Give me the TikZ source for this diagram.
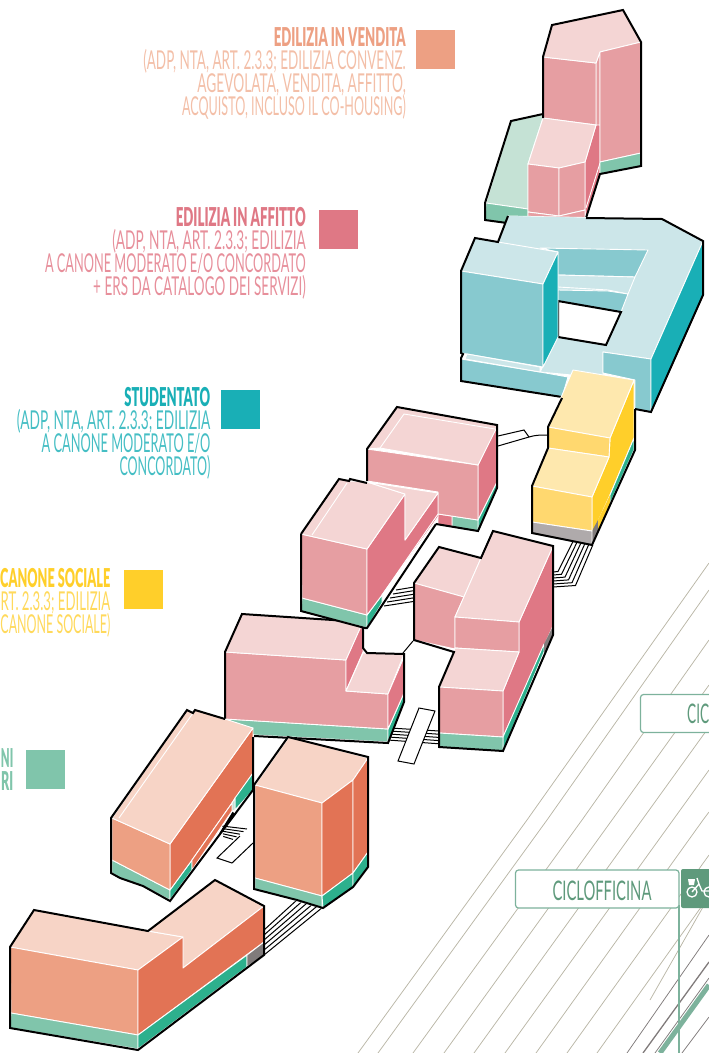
\documentclass[tikz,border=0pt]{standalone}
\usepackage{graphicx}
\usepackage{fontspec}
\setmainfont{Lato}
\newfontfamily\thinf{Lato}
\newfontfamily\boldf{Lato Black}
\definecolor{rf}{HTML}{F4D5D4}\definecolor{wl}{HTML}{E69EA2}\definecolor{sd}{HTML}{DF7885}
\definecolor{gl}{HTML}{80C5AB}\definecolor{gd}{HTML}{2DB08D}\definecolor{gp}{HTML}{C5E2D5}
\definecolor{ta}{HTML}{19AFB6}\definecolor{tm}{HTML}{87C9CF}\definecolor{tl}{HTML}{CCE6E9}
\definecolor{yl}{HTML}{FEE8AE}\definecolor{ym}{HTML}{FFD86F}\definecolor{yd}{HTML}{FFCF2A}
\definecolor{gy}{HTML}{AFAAAB}\definecolor{gk}{HTML}{807B7B}
\definecolor{or}{HTML}{F7D4C6}\definecolor{ow}{HTML}{EDA083}\definecolor{os}{HTML}{E27355}
\definecolor{rail}{HTML}{B9B6A6}\definecolor{lab}{HTML}{7DB29C}\definecolor{bik}{HTML}{5F9A7C}
\definecolor{tvend}{HTML}{F3BFA8}\definecolor{taff}{HTML}{E78F9B}\definecolor{tstu}{HTML}{45BEC4}\definecolor{tcan}{HTML}{FFD95C}
\newcommand{\fc}[2]{\filldraw[face,fill=#1] #2 -- cycle;}
\newcommand{\ol}[1]{\draw[outl] #1;}
\newcommand{\lbl}[7]{\node[txt,text=#5] (#1) at (#2,#3) {\resizebox{#4pt}{\height}{#6 #7}};}
\tikzset{
  face/.style={draw=white,line width=0.9pt,line join=round},
  outl/.style={draw=black,line width=2pt,line join=miter},
  txt/.style={anchor=base east,inner sep=0pt,font=\fontsize{26}{26}\selectfont},
  railw/.style={draw=rail,line width=0.75pt},
  darkr/.style={draw=gk,line width=0.75pt},
  stair/.style={draw=black,line width=1pt},
  tag/.style={draw=lab,line width=1.2pt,fill=white,rounded corners=3pt}
}
\begin{document}
\begin{tikzpicture}[x=1pt,y=-1pt]
\useasboundingbox (0,0) rectangle (709,1053);
% ---- rail lines
\draw[railw] (358,1053)--(527,820)--(709,563);
\draw[railw] (378,1053)--(547,820)--(709,590);
\draw[railw] (413,1053)--(582,820)--(709,640);
\draw[railw] (444,1053)--(612,820)--(709,685);
\draw[railw] (474,1053)--(642,820)--(709,727);
\draw[railw] (505,1053)--(673,820)--(709,770);
\draw[railw] (536,1053)--(703,820)--(709,812);
\draw[railw] (567,1053)--(709,855);
\draw[railw] (597,1053)--(709,896);
\draw[railw] (650,1000)--(703,907);
\draw[darkr] (627,1053)--(709,935);
\draw[darkr,line width=1.3pt] (643,1053)--(709,962);
\draw[darkr] (655,1053)--(709,978);
\draw[darkr] (682,1053)--(709,1017);
\draw[draw=lab,line width=5pt] (660,1053)--(709,985);
% ---- tags
\draw[lab,line width=1.2pt] (679,905)--(679,1053);
\fill[white] (640.5,694.5) rectangle (709,732.5);
\draw[lab,line width=1.2pt,rounded corners=3pt] (715,694.5) -- (640.5,694.5) -- (640.5,732.5) -- (715,732.5);
\draw[tag] (515.5,870) rectangle (679,908);
\node[inner sep=0pt,anchor=base west,text=bik,font=\thinf\fontsize{27}{27}\selectfont] (cic) at (687,723) {\resizebox{22pt}{\height}{CIC}};
\node[inner sep=0pt,anchor=base,text=bik,font=\thinf\fontsize{27}{27}\selectfont] (cicl) at (602,900) {\resizebox{99pt}{\height}{CICLOFFICINA}};
\fill[bik,rounded corners=2pt] (681,908) -- (681,869) -- (712,869) -- (712,908) -- cycle;
\draw[white,line width=1.3pt] (692,892) circle[radius=5];
\draw[white,line width=1.3pt] (709,892) circle[radius=5];
\draw[white,line width=1.3pt] (692,892) -- (699,884) -- (697,878) (699,884) -- (702,891) -- (709,891);
\fill[white] (688,879) -- (695,879) -- (694,885) -- (689,885) -- cycle;
% ---- legend
\fill[ow]  (416,30) rectangle (455,69);
\fill[sd]  (319,210) rectangle (358,249);
\fill[ta]  (221,390) rectangle (260,429);
\fill[yd]  (124,570) rectangle (163,609);
\fill[gl]  (26,750) rectangle (65,789);
\lbl{v1}{406}{46}{135}{ow}{\boldf}{EDILIZIA IN VENDITA}
\lbl{v2}{406}{69}{266}{tvend}{\thinf}{(ADP, NTA, ART. 2.3.3; EDILIZIA CONVENZ.}
\lbl{v3}{406}{92}{212}{tvend}{\thinf}{AGEVOLATA,  VENDITA, AFFITTO,}
\lbl{v4}{406}{115}{227}{tvend}{\thinf}{ACQUISTO, INCLUSO IL CO-HOUSING)}
\lbl{a1}{306}{226}{133}{sd}{\boldf}{EDILIZIA IN AFFITTO}
\lbl{a2}{306}{249}{197}{taff}{\thinf}{(ADP, NTA, ART. 2.3.3; EDILIZIA}
\lbl{a3}{306}{272}{264}{taff}{\thinf}{A CANONE MODERATO E/O CONCORDATO}
\lbl{a4}{306}{295}{216}{taff}{\thinf}{+ ERS DA CATALOGO DEI SERVIZI)}
\lbl{s1}{210.5}{406}{89}{ta}{\boldf}{STUDENTATO}
\lbl{s2}{210.5}{429}{197}{tstu}{\thinf}{(ADP, NTA, ART. 2.3.3; EDILIZIA}
\lbl{s3}{210.5}{452}{172}{tstu}{\thinf}{A CANONE MODERATO E/O}
\lbl{s4}{210.5}{475}{94}{tstu}{\thinf}{CONCORDATO)}
\lbl{c1}{110.5}{587}{113}{yd}{\boldf}{CANONE SOCIALE}
\lbl{c2}{110.5}{610}{113}{tcan}{\thinf}{RT. 2.3.3; EDILIZIA}
\lbl{c3}{110.5}{633}{113}{tcan}{\thinf}{CANONE SOCIALE)}
\lbl{n1}{13.5}{767}{15}{gl}{\boldf}{NI}
\lbl{n2}{13.5}{790}{15}{gl}{\boldf}{RI}
% ---- stairs and small connections
\draw[stair] (498,436)--(524,430)--(529,437) .. controls (535,435) and (541,435) .. (548,435);
\draw[stair] (498,446)--(529,437);
\foreach \i in {0,...,5}{
  \draw[stair] ({573.3+3.9*\i},{541+0.8*\i}) -- ({558+3.5*\i},{571.5+2.8*\i}) -- (553,{572+3*\i});
  \draw[stair] (264,{930+5*\i}) -- ({298+5*\i},{899+1.6*\i});
}
\foreach \i in {0,...,4}{
  \draw[stair] ({396-3*\i},{590+4*\i}) -- (414,{587+3.6*\i});
  \draw[stair] ({390-0.5*\i},{728+3*\i}) -- (439,{731+3.2*\i});
  \draw[stair] ({222+\i*0.3},{826+2.6*\i}) -- ({247-\i*3.5},{829+2.6*\i});
}
\draw[stair] (220,833)--(233,812) (223,829)--(234,813) (226,826)--(235,814);
\draw[stair] (403,653)--(413,641);
\draw[stair,fill=white] (419,708)--(435,711)--(414,764)--(398,761)--cycle;
\draw[stair] (240,836)--(217,858)--(232,863)--(253,843);
% ---- top pink block
\fc{gp}{(543,114)--(511,121)--(486,203)--(528,209)--(528,164)--(543,118)}
\fc{gl}{(486,203)--(528,209)--(528,222)--(507,223)--(485,220)}
\fc{wl}{(596,63)--(600,52)--(600,130)--(596,125)}
\fc{sd}{(585,162)--(596,125)--(600,125)--(600,174)--(586,219)--(585,210)}
\draw[white,line width=0.9pt] (600,163)--(586,208);
\fc{wl}{(543,57)--(596,63)--(596,125)--(543,118)}
\fc{rf}{(543,57)--(552,25)--(623,10)--(641,42)--(600,52)--(596,63)}
\fc{wl}{(600,52)--(641,42)--(641,153)--(600,162)}
\fc{gl}{(600,162)--(641,153)--(641,166)--(600,174)}
\fc{rf}{(543,118)--(596,125)--(585,162)--(559,168)--(528,164)}
\fc{wl}{(528,164)--(559,168)--(559,216)--(528,212)}
\fc{wl}{(559,168)--(585,162)--(585,210)--(559,216)}
\fc{wl}{(528,212)--(559,216)--(585,210)--(585,219)--(528,219)}
\ol{(543,118)--(543,57)--(552,25)--(623,10)--(641,42)--(641,166)--(600,174)--(586,218)}
\ol{(543,114)--(511,121)--(485,203)--(485,220)--(507,223)}
% ---- teal block
\filldraw[face,fill=tl] (508,216)--(662,219)--(703,241)--(651,359)--(603,352)--(603,378)--(540,372)--(550,352)--(558,252)--cycle;
\fill[tl] (498,242)--(508,216)--(600,218)--(600,300)--(558,252)--cycle;
\fc{tm}{(540,248)--(648,250)--(635,277)--(558,275)--(558,252)}
\fc{tl}{(558,275)--(635,277)--(628,294)--(608,290)--(558,287)}
\fc{tm}{(558,290)--(608,291)--(628,294)--(621,312)--(558,301)}
\filldraw[draw=black,line width=2pt,fill=white] (558,301)--(621,312)--(606,345)--(558,337)--cycle;
\fc{tl}{(461,271)--(475,238)--(498,242)--(558,252)--(543,284)}
\fc{tm}{(461,271)--(543,284)--(543,367)--(461,353)}
\fc{ta}{(543,284)--(558,252)--(558,337)--(543,367)}
\fc{tm}{(461,359)--(540,372)--(568,377)--(562,397)--(461,381)}
\fc{tl}{(467,354)--(540,367)--(540,372)--(465,359)}
\fc{tm}{(603,352)--(651,359)--(651,412)--(635,409)--(635,380)--(603,373)}
\fc{ta}{(651,359)--(703,241)--(703,295)--(651,412)}
\ol{(586,218)--(662,219)--(703,241)--(703,295)--(651,412)--(635,409)}
\ol{(508,216)--(498,242)--(475,238)--(461,271)--(461,353)--(463,354)--(461,358)--(461,381)--(562,397)}
% ---- yellow block
\fc{yd}{(610,438)--(634,380)--(634,438)--(610,495)--(600,517)--(592,535)--(592,497)--(609,457)}
\fc{gd}{(634,438)--(610,495)--(610,504)--(634,450)}
\fill[gk] (592,531)--(598,520)--(598,532)--(592,545)--cycle;
\fill[yd] (598,520)--(610,495)--(610,504)--(598,530)--cycle;
\fc{yl}{(573,370)--(634,380)--(610,438)--(548,427)}
\fc{ym}{(548,427)--(610,438)--(609,457)--(548,448)}
\fc{yl}{(548,448)--(609,457)--(592,497)--(532,486)}
\fc{ym}{(532,486)--(592,497)--(592,531)--(532,522)}
\fc{gy}{(532,522)--(592,531)--(592,545)--(532,533)}
\ol{(562,398)--(548,427)--(548,448)--(532,486)--(532,533)--(592,545)--(635,450)--(635,409)}
% ---- pink B1
\fc{sd}{(478,465)--(497,425)--(497,482)--(478,520)}
\fc{gd}{(478,520)--(497,482)--(497,488)--(478,531)}
\fc{gl}{(452,516)--(478,520)--(478,531)--(452,527)}
\fc{sd}{(438,514)--(452,516)--(452,527)--(438,524)}
\fc{wl}{(367,449)--(478,465)--(478,520)--(438,514)--(438,492)--(367,481)}
\fc{rf}{(367,449)--(397,407)--(497,424)--(497,427)--(478,465)--(380,448)}
\draw[white,line width=0.9pt] (380,448)--(404,414)--(495,429);
\ol{(367,481)--(367,449)--(397,407)--(497,425)--(497,488)--(478,531)--(436,524)}
% ---- pink B4
\fc{gl}{(227,719)--(388,729)--(388,742)--(254,735)}
\fc{gd}{(388,729)--(404,693)--(404,702)--(388,743)}
\fc{wl}{(225,652)--(346,660)--(346,691)--(388,694)--(388,729)--(225,719)}
\fc{rf}{(225,652)--(242,614)--(363,622)--(346,660)}
\fc{sd}{(346,660)--(363,622)--(363,652)--(346,691)}
\fc{rf}{(346,691)--(363,653)--(404,654)--(388,694)}
\fc{sd}{(388,694)--(404,657)--(404,693)--(388,729)}
\ol{(225,720)--(225,652)--(242,614)--(363,622)--(363,648)--(367,653)--(404,654)--(404,702)--(388,743)--(254,736)}
% ---- pink B2
\fc{gl}{(302,598)--(367,615)--(367,628)--(301,611)}
\fc{gd}{(367,615)--(382,595)--(382,603)--(367,628)}
\fc{wl}{(301,534)--(367,549)--(367,615)--(302,598)}
\fc{sd}{(367,549)--(405,494)--(405,540)--(438,493)--(438,517)--(382,595)--(367,615)}
\draw[white,line width=0.9pt] (438,514)--(382,595);
\fc{rf}{(301,534)--(339,479)--(350,481)--(367,482)--(405,494)--(367,549)}
\fc{rf}{(367,482)--(438,493)--(405,540)--(405,494)}
\draw[white,line width=0.9pt] (312,535)--(347,483);
\ol{(301,534)--(339,479)--(349,481)--(350,479)--(367,483)}
\ol{(301,534)--(301,611)--(365,628)--(367,628)--(436,524)}
% ---- pink B3
\fc{sd}{(519,622)--(553,546)--(553,626)--(503,737)--(503,691)--(519,652)}
\fc{gd}{(503,737)--(544,644)--(544,652)--(503,751)}
\fill[gk] (544,644)--(553,626)--(553,635)--(544,653)--cycle;
\fc{rf}{(414,583)--(439,547)--(481,558)--(464,597)}
\fc{wl}{(414,583)--(464,597)--(455,617)--(455,649)--(414,640)}
\fc{rf}{(481,558)--(493,531)--(553,546)--(519,622)--(455,617)}
\fc{wl}{(455,617)--(519,622)--(519,652)--(455,648)}
\fc{rf}{(455,648)--(519,652)--(503,691)--(439,687)}
\fc{wl}{(439,687)--(503,691)--(503,737)--(439,733)}
\fc{gl}{(439,733)--(503,737)--(503,751)--(439,747)}
\ol{(414,640)--(414,583)--(439,547)--(481,558)--(493,531)--(553,546)--(553,635)--(503,751)--(439,747)--(439,687)--(454,652)--cycle}
% ---- orange O2
\fc{or}{(255,785)--(289,737)--(368,758)--(353,780)--(322,803)}
\fc{ow}{(255,785)--(322,803)--(322,896)--(255,878)}
\fc{os}{(322,803)--(353,780)--(353,873)--(322,896)}
\fc{os}{(353,780)--(368,758)--(368,852)--(353,873)}
\fc{gl}{(255,878)--(322,896)--(322,908)--(255,889)}
\fc{gd}{(322,896)--(353,873)--(353,887)--(323,908)}
\fc{gd}{(353,873)--(368,852)--(368,867)--(353,887)}
\ol{(254,889)--(254,785)--(288,737)--(368,757)--(368,867)--(353,887)--(323,908)--(297,900)--cycle}
% ---- orange O1
\fc{gl}{(112,860)--(170,890)--(170,900)--(143,886)--(120,878)--(112,873)}
\fc{gd}{(170,890)--(192,860)--(192,870)--(170,900)}
\fc{os}{(170,844)--(253,728)--(253,773)--(232,803)--(192,860)--(170,890)}
\fc{gd}{(235,798)--(253,773)--(253,790)--(235,810)}
\fc{gp}{(232,803)--(235,798)--(235,810)--(232,811)}
\fc{os}{(192,860)--(232,803)--(232,811)--(192,870)}
\fc{ow}{(112,818)--(170,844)--(170,890)--(112,860)}
\fc{or}{(112,818)--(187,710)--(193,713)--(195,710)--(225,719)--(253,728)--(170,844)}
\draw[white,line width=0.9pt] (119,818)--(193,713);
\ol{(225,719)--(195,710)--(193,713)--(187,710)--(111,818)--(111,873)--(120,878)--(143,886)--(170,901)--(253,790)--(253,737)}
% ---- orange O3
\fc{or}{(10,947)--(34,910)--(148,931)--(183,937)--(138,970)}
\fc{or}{(148,931)--(215,880)--(264,906)--(183,968)--(183,937)}
\fc{ow}{(10,947)--(138,970)--(138,1035)--(11,1013)}
\fc{gl}{(11,1013)--(138,1035)--(138,1049)--(10,1028)}
\fc{os}{(138,970)--(183,937)--(183,968)--(264,906)--(264,942)--(138,1035)}
\fc{gd}{(138,1035)--(247,955)--(247,967)--(138,1049)}
\fc{gk}{(247,955)--(264,942)--(264,955)--(247,967)}
\ol{(10,947)--(34,910)--(148,931)--(215,880)--(264,906)--(264,955)--(138,1050)--(10,1028)--cycle}
\end{tikzpicture}
\end{document}
